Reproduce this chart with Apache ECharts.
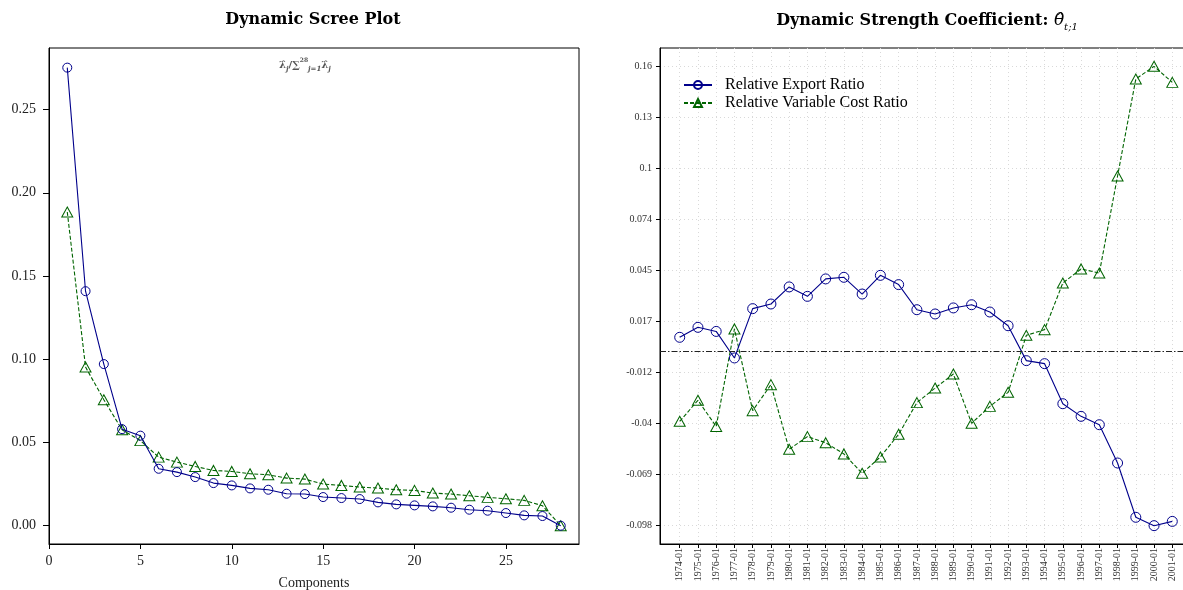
<!DOCTYPE html>
<html>
<head>
<meta charset="utf-8">
<script src="https://cdn.jsdelivr.net/npm/echarts@6/dist/echarts.min.js"></script>
<style>
  html, body { margin: 0; padding: 0; background: #fff; }
  #chart { width: 1183px; height: 590px; }
</style>
</head>
<body>
<div id="chart"></div>
<script>
// ---- Dynamic scree plot: share of each eigenvalue ----
const components = [1, 2, 3, 4, 5, 6, 7, 8, 9, 10, 11, 12, 13, 14,
  15, 16, 17, 18, 19, 20, 21, 22, 23, 24, 25, 26, 27, 28];
const screeExport = [0.2752, 0.1409, 0.0971, 0.0580, 0.0541, 0.0342, 0.0322, 0.0292,
  0.0256, 0.0242, 0.0224, 0.0216, 0.0192, 0.0190, 0.0172, 0.0166, 0.0160, 0.0140,
  0.0128, 0.0122, 0.0116, 0.0108, 0.0096, 0.0090, 0.0076, 0.0062, 0.0058, 0.0000];
const screeCost = [0.1885, 0.0953, 0.0757, 0.0576, 0.0511, 0.0412, 0.0382, 0.0356,
  0.0332, 0.0326, 0.0312, 0.0306, 0.0286, 0.0280, 0.0250, 0.0242, 0.0232, 0.0226,
  0.0216, 0.0212, 0.0196, 0.0190, 0.0180, 0.0170, 0.0162, 0.0152, 0.0120, 0.0000];
const componentTicks = [0, 5, 10, 15, 20, 25];
const screeTicks = [0, 0.05, 0.10, 0.15, 0.20, 0.25];

// ---- Dynamic strength coefficient per year ----
const months = ['1974-01', '1975-01', '1976-01', '1977-01', '1978-01', '1979-01', '1980-01',
  '1981-01', '1982-01', '1983-01', '1984-01', '1985-01', '1986-01', '1987-01', '1988-01',
  '1989-01', '1990-01', '1991-01', '1992-01', '1993-01', '1994-01', '1995-01', '1996-01',
  '1997-01', '1998-01', '1999-01', '2000-01', '2001-01'];
const exportRatio = [0.0078, 0.0134, 0.0111, -0.0038, 0.0239, 0.0265, 0.0361, 0.0308,
  0.0406, 0.0415, 0.0321, 0.0426, 0.0374, 0.0233, 0.0209, 0.0243, 0.0261, 0.0220,
  0.0143, -0.0053, -0.0070, -0.0295, -0.0366, -0.0413, -0.0628, -0.0933, -0.0980, -0.0956];
const costRatio = [-0.0394, -0.0276, -0.0423, 0.0125, -0.0334, -0.0188, -0.0551, -0.0480,
  -0.0514, -0.0577, -0.0686, -0.0594, -0.0467, -0.0289, -0.0207, -0.0128, -0.0405, -0.0310,
  -0.0231, 0.0089, 0.0121, 0.0383, 0.0462, 0.0439, 0.0984, 0.1529, 0.1600, 0.1510];
const strengthTicks = [-0.098, -0.0693, -0.0407, -0.012, 0.0167, 0.0453, 0.074, 0.1027, 0.1313, 0.16];
const strengthTickLabels = ['-0.098', '-0.069', '-0.04', '-0.012', '0.017', '0.045', '0.074', '0.1', '0.13', '0.16'];

const BLUE = '#00008b';
const GREEN = '#006400';
const SERIF = 'Liberation Serif';
const HOLLOW = 'rgba(0,0,0,0)';

const chart = echarts.init(document.getElementById('chart'), null, { renderer: 'canvas' });

const axisLineStyle = { show: true, onZero: false, lineStyle: { color: '#000', width: 1 } };
const gridLines = { show: true, lineStyle: { color: '#d9d9d9', width: 1, type: [1, 3] } };

chart.setOption({
  animation: false,
  backgroundColor: '#fff',
  title: [
    {
      text: 'Dynamic Scree Plot',
      left: 313, top: 12, padding: 0, textAlign: 'center',
      textStyle: { fontFamily: 'DejaVu Serif', fontWeight: 'bold', fontSize: 16, color: '#000' }
    },
    {
      text: '{b|Dynamic Strength Coefficient: }{m|θ̂}{s|t;1}',
      left: 927, top: 10, padding: 0, textAlign: 'center',
      textStyle: {
        rich: {
          b: { fontFamily: 'DejaVu Serif', fontWeight: 'bold', fontSize: 16, lineHeight: 22, color: '#000' },
          m: { fontFamily: 'DejaVu Serif', fontWeight: 'normal', fontStyle: 'italic', fontSize: 17, lineHeight: 22, color: '#000' },
          s: { fontFamily: 'DejaVu Serif', fontWeight: 'normal', fontStyle: 'italic', fontSize: 10, lineHeight: 22, verticalAlign: 'bottom', color: '#000' }
        }
      }
    },
    {
      text: '{a|λ̂}{s|j}{a|/∑}{p|28}{s|j=1}{a|λ̂}{s|j}',
      left: 279, top: 57, padding: 0,
      textStyle: {
        rich: {
          a: { fontFamily: 'DejaVu Serif', fontSize: 10, lineHeight: 16, color: '#555' },
          s: { fontFamily: 'DejaVu Serif', fontStyle: 'italic', fontSize: 7, lineHeight: 16, verticalAlign: 'bottom', color: '#555' },
          p: { fontFamily: 'DejaVu Serif', fontSize: 6, lineHeight: 16, verticalAlign: 'top', color: '#555' }
        }
      }
    }
  ],
  legend: {
    data: ['Relative Export Ratio', 'Relative Variable Cost Ratio'],
    orient: 'vertical',
    left: 683, top: 77, padding: 0,
    itemWidth: 28, itemHeight: 10, itemGap: 2,
    textStyle: { fontFamily: SERIF, fontSize: 16, color: '#000', padding: [0, 0, 0, 8], lineHeight: 15 }
  },
  grid: [
    { left: 49, right: 604, top: 48, bottom: 46, show: true, borderColor: '#000', borderWidth: 1, outerBoundsMode: 'none', containLabel: false },
    { left: 660, right: -9, top: 48, bottom: 46, show: true, borderColor: '#000', borderWidth: 1, outerBoundsMode: 'none', containLabel: false }
  ],
  xAxis: [
    {
      type: 'value', gridIndex: 0, min: 0, max: 29,
      axisLine: axisLineStyle,
      axisTick: { show: true, length: 5, customValues: componentTicks, lineStyle: { color: '#000' } },
      axisLabel: { customValues: componentTicks, fontFamily: SERIF, fontSize: 14, color: '#222', margin: 10 },
      splitLine: { show: false },
      name: 'Components', nameLocation: 'middle', nameGap: 32,
      nameTextStyle: { fontFamily: SERIF, fontSize: 14, color: '#222' }
    },
    {
      type: 'value', gridIndex: 1, min: -1.08, max: 28.08,
      axisLine: axisLineStyle,
      axisTick: { show: true, length: 4, customValues: months.map((m, i) => i), lineStyle: { color: '#000' } },
      axisLabel: {
        customValues: months.map((m, i) => i),
        formatter: (v) => months[Math.round(v)] || '',
        rotate: 90, fontFamily: SERIF, fontSize: 10, color: '#333', margin: 4
      },
      splitLine: gridLines
    }
  ],
  yAxis: [
    {
      type: 'value', gridIndex: 0, min: -0.011, max: 0.287,
      axisLine: axisLineStyle,
      axisTick: { show: true, length: 6, customValues: screeTicks, lineStyle: { color: '#000' } },
      axisLabel: {
        customValues: screeTicks,
        formatter: (v) => v.toFixed(2),
        fontFamily: SERIF, fontSize: 14, color: '#222', margin: 13
      },
      splitLine: { show: false }
    },
    {
      type: 'value', gridIndex: 1, min: -0.1083, max: 0.1703,
      axisLine: axisLineStyle,
      axisTick: { show: true, length: 4, customValues: strengthTicks, lineStyle: { color: '#000' } },
      axisLabel: {
        customValues: strengthTicks,
        formatter: (v) => {
          const i = strengthTicks.findIndex((t) => Math.abs(t - v) < 1e-6);
          return i >= 0 ? strengthTickLabels[i] : '';
        },
        fontFamily: SERIF, fontSize: 10, color: '#333', margin: 8
      },
      splitLine: gridLines
    }
  ],
  series: [
    {
      type: 'line', xAxisIndex: 0, yAxisIndex: 0,
      data: components.map((c, i) => [c, screeExport[i]]),
      symbol: 'circle', symbolSize: 9,
      itemStyle: { color: HOLLOW, borderColor: BLUE, borderWidth: 1 },
      lineStyle: { color: BLUE, width: 1.1 },
      z: 3
    },
    {
      type: 'line', xAxisIndex: 0, yAxisIndex: 0,
      data: components.map((c, i) => [c, screeCost[i]]),
      symbol: 'triangle', symbolSize: [11, 10],
      itemStyle: { color: HOLLOW, borderColor: GREEN, borderWidth: 1 },
      lineStyle: { color: GREEN, width: 1.1, type: [4, 2] },
      z: 2
    },
    {
      name: 'Relative Export Ratio',
      type: 'line', xAxisIndex: 1, yAxisIndex: 1,
      data: months.map((m, i) => [i, exportRatio[i]]),
      symbol: 'circle', symbolSize: 10,
      itemStyle: { color: HOLLOW, borderColor: BLUE, borderWidth: 1 },
      lineStyle: { color: BLUE, width: 1.1 },
      z: 3
    },
    {
      name: 'Relative Variable Cost Ratio',
      type: 'line', xAxisIndex: 1, yAxisIndex: 1,
      data: months.map((m, i) => [i, costRatio[i]]),
      symbol: 'triangle', symbolSize: [11, 10],
      itemStyle: { color: HOLLOW, borderColor: GREEN, borderWidth: 1 },
      lineStyle: { color: GREEN, width: 1.1, type: [4, 2] },
      z: 2,
      markLine: {
        silent: true, symbol: 'none', label: { show: false },
        lineStyle: { color: '#222', width: 1, type: [6, 2, 1.5, 2] },
        data: [{ yAxis: 0 }]
      }
    }
  ]
});
</script>
</body>
</html>
